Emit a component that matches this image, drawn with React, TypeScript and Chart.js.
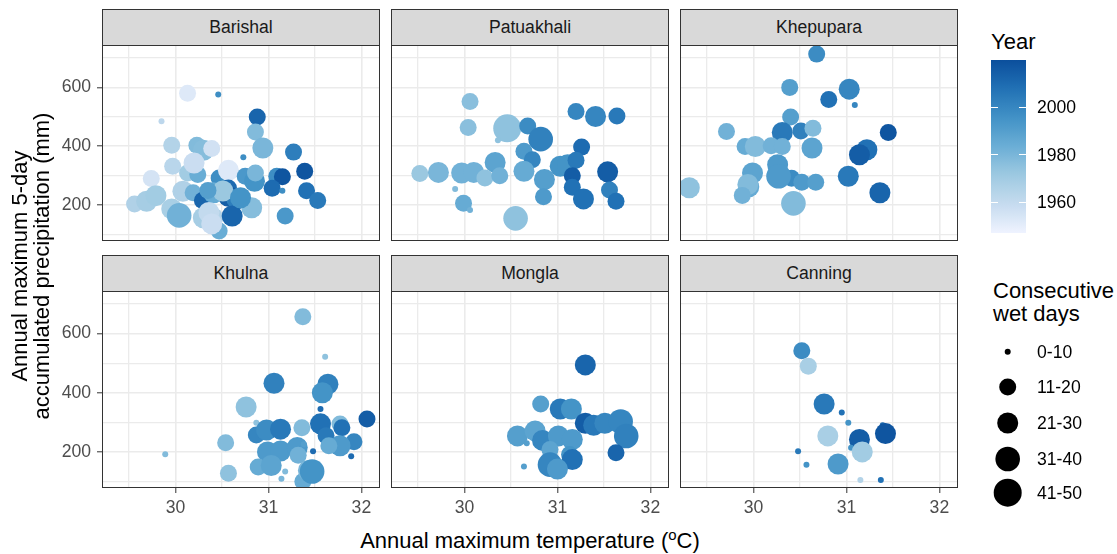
import React, { useEffect, useRef } from "react";
import { Chart, registerables } from "chart.js";

Chart.register(...registerables);

// ---------------- data ----------------
const stations = ["Barishal", "Patuakhali", "Khepupara", "Khulna", "Mongla", "Canning"];
const wetDayClasses = ["0-10", "11-20", "21-30", "31-40", "41-50"];
const xTickLabels = [30, 31, 32];
const xGridValues = [29.5, 30, 30.5, 31, 31.5, 32];
const yTickLabels = [200, 400, 600];
const yGridValues = [100, 200, 300, 400, 500, 600, 700];
const yearTickLabels = [1960, 1980, 2000];

const barishalTemp = [30.13, 30.46, 29.85, 30.88, 30.86, 30.94, 31.27, 30.73, 29.96, 30.23, 30.3, 30.39, 29.97, 29.74, 29.56, 29.69, 29.79, 29.96, 30.04, 30.08, 30.13, 30.24, 30.19, 30.2, 30.29, 30.3, 30.4, 30.47, 30.47, 30.57, 30.41, 30.57, 30.57, 30.66, 30.61, 30.75, 30.85, 30.86, 30.82, 31.09, 31.15, 31.04, 31.15, 31.18, 31.39, 31.41, 31.53, 30.51, 30.36, 30.39, 30.7, 30.35];
const barishalPrecip = [580, 576, 485, 499, 448, 394, 380, 363, 403, 403, 386, 392, 332, 290, 204, 213, 232, 187, 165, 247, 309, 304, 242, 343, 216, 157, 157, 112, 292, 318, 242, 258, 230, 221, 163, 298, 281, 309, 191, 298, 296, 257, 249, 163, 315, 249, 216, 248, 175, 136, 225, 250];
const barishalYear = [1952, 1997, 1962, 2012, 1978, 1980, 2003, 1997, 1965, 1978, 1977, 1956, 1963, 1955, 1966, 1969, 1970, 1968, 1982, 1966, 1970, 1984, 1982, 1958, 2012, 1969, 1965, 1984, 1997, 1952, 1985, 2010, 2015, 2003, 2012, 1993, 1995, 1980, 1977, 1997, 2018, 2010, 1997, 1993, 2018, 2008, 2005, 1972, 1960, 1958, 1995, 1990];
const barishalWet = [1, 0, 0, 1, 1, 2, 1, 0, 1, 1, 2, 1, 1, 1, 1, 2, 2, 2, 3, 2, 1, 1, 1, 2, 1, 2, 2, 1, 1, 2, 2, 1, 2, 2, 2, 1, 2, 1, 2, 1, 1, 1, 0, 1, 1, 1, 1, 2, 2, 2, 2, 1];

const patuakhaliTemp = [30.06, 30.04, 30.46, 30.68, 30.82, 31.2, 31.41, 31.64, 31.26, 30.36, 30.64, 30.73, 30.33, 29.52, 29.72, 29.97, 30.1, 30.22, 30.38, 30.64, 30.86, 30.85, 31.03, 31.11, 31.2, 31.16, 31.16, 31.28, 31.54, 31.56, 31.63, 29.99, 29.9, 30.06, 30.55];
const patuakhaliPrecip = [552, 464, 461, 469, 424, 518, 501, 503, 397, 420, 383, 354, 345, 307, 311, 309, 311, 292, 300, 315, 287, 228, 332, 337, 352, 300, 261, 221, 313, 251, 213, 206, 255, 183, 155];
const patuakhaliYear = [1976, 1976, 1975, 1998, 2002, 2000, 2000, 2005, 2010, 1975, 1992, 2000, 1988, 1972, 1980, 1982, 1982, 1975, 1982, 1985, 1990, 1992, 1995, 1995, 2005, 2015, 2008, 2008, 2015, 2002, 2008, 1985, 1978, 1982, 1975];
const patuakhaliWet = [1, 1, 4, 1, 3, 1, 2, 1, 1, 0, 1, 1, 2, 1, 2, 2, 2, 1, 1, 2, 2, 1, 2, 2, 1, 1, 1, 2, 2, 1, 1, 1, 0, 0, 3];

const khepuparaTemp = [30.68, 30.39, 31.03, 30.81, 31.09, 30.4, 29.71, 30.31, 30.51, 30.64, 31.45, 29.91, 30.02, 30.19, 30.31, 30.63, 31.22, 31.14, 30.26, 30.41, 29.99, 30.27, 30.52, 30.67, 31.02, 29.31, 29.95, 29.94, 29.88, 30.43, 31.36];
const khepuparaPrecip = [713, 600, 594, 559, 540, 499, 450, 447, 452, 461, 447, 399, 399, 402, 399, 394, 388, 371, 337, 291, 309, 298, 278, 278, 298, 259, 262, 270, 233, 206, 242];
const khepuparaYear = [1998, 1990, 2000, 2008, 2000, 1990, 1982, 2005, 2002, 1978, 2018, 1985, 1978, 1982, 1982, 1988, 2008, 2015, 1992, 1998, 1988, 1992, 1992, 1990, 2005, 1975, 1985, 1978, 1982, 1978, 2012];
const khepuparaWet = [1, 1, 2, 1, 0, 1, 1, 2, 1, 1, 1, 1, 2, 1, 1, 2, 2, 2, 2, 1, 2, 3, 1, 1, 2, 2, 2, 2, 1, 3, 2];

const khulnaTemp = [31.37, 31.61, 31.06, 31.64, 31.58, 30.76, 31.56, 30.87, 32.06, 30.87, 30.98, 31.13, 31.36, 31.56, 31.62, 31.77, 31.79, 31.92, 31.77, 31.65, 30.54, 29.89, 30.99, 31.13, 31.31, 31.38, 31.48, 31.89, 30.89, 31.03, 30.57, 31.18, 31.14, 31.37, 31.43, 31.47, 31.32];
const khulnaPrecip = [657, 522, 432, 429, 400, 352, 345, 299, 311, 257, 274, 277, 282, 295, 255, 294, 282, 234, 221, 221, 231, 192, 200, 203, 215, 226, 202, 185, 149, 154, 128, 134, 109, 100, 137, 134, 189];
const khulnaYear = [1978, 1975, 2002, 2002, 1995, 1975, 2010, 1975, 2015, 2000, 1998, 2005, 1978, 2008, 2005, 1978, 2008, 2000, 1992, 1985, 1978, 1978, 1992, 1992, 1992, 1990, 2010, 2010, 1985, 1988, 1975, 1978, 1980, 1985, 1980, 1995, 1982];
const khulnaWet = [1, 0, 2, 2, 2, 2, 0, 0, 1, 1, 2, 2, 1, 2, 1, 1, 1, 1, 2, 1, 1, 0, 2, 2, 2, 0, 0, 0, 1, 2, 1, 0, 0, 1, 2, 3, 1];

const monglaTemp = [31.3, 30.82, 31.03, 31.15, 31.3, 31.39, 31.51, 31.68, 31.74, 30.57, 30.76, 30.67, 30.84, 31.01, 31.16, 30.92, 31.13, 31.16, 31.63, 30.64, 30.92, 31.0];
const monglaPrecip = [494, 362, 345, 345, 297, 290, 297, 303, 254, 254, 271, 229, 239, 254, 242, 208, 191, 174, 197, 151, 157, 142];
const monglaYear = [2012, 1990, 2005, 1995, 2015, 2005, 2000, 2000, 2002, 1990, 1988, 1990, 2000, 1992, 1992, 1988, 1995, 2008, 2012, 1990, 2000, 1992];
const monglaWet = [2, 1, 2, 2, 2, 2, 2, 3, 3, 2, 2, 0, 2, 2, 2, 1, 1, 2, 1, 0, 3, 2];

const canningTemp = [30.52, 30.59, 30.76, 30.95, 31.02, 31.39, 31.42, 30.8, 31.14, 31.05, 31.17, 30.48, 30.57, 30.91, 31.15, 31.37];
const canningPrecip = [542, 490, 362, 333, 299, 290, 262, 254, 242, 214, 200, 202, 157, 159, 105, 105];
const canningYear = [1998, 1968, 2005, 2008, 1995, 2010, 2018, 1968, 2015, 1995, 1970, 2005, 1995, 1992, 1965, 2008];
const canningWet = [1, 1, 2, 0, 0, 0, 2, 2, 2, 0, 2, 0, 0, 2, 0, 0];

const stationTemp = [barishalTemp, patuakhaliTemp, khepuparaTemp, khulnaTemp, monglaTemp, canningTemp];
const stationPrecip = [barishalPrecip, patuakhaliPrecip, khepuparaPrecip, khulnaPrecip, monglaPrecip, canningPrecip];
const stationYear = [barishalYear, patuakhaliYear, khepuparaYear, khulnaYear, monglaYear, canningYear];
const stationWet = [barishalWet, patuakhaliWet, khepuparaWet, khulnaWet, monglaWet, canningWet];

// ---------------- styling / layout ----------------
const FONT = '"Liberation Sans", Arial, Helvetica, sans-serif';
const SMALL = 17.6;
const TITLE = 22;
const X_MIN = 29.21;
const X_MAX = 32.2;
const Y_MIN = 78;
const Y_MAX = 744;
const YEAR_MIN = 1947;
const YEAR_MAX = 2020;
const BLUES = ["#EFF3FF", "#C6DBEF", "#9ECAE1", "#6BAED6", "#4292C6", "#2171B5", "#0B4F9C"];
const RADII = [3, 8.5, 10.5, 12.3, 14];

const COL_LEFT = [102, 391, 680];
const PLOT_W = 278;
const ROW_TOP = [45, 291];
const ROW_H = [196, 197];
const STRIP_H = 36;
const Y_AXIS_W = 60;
const X_AXIS_H = 34;

function hexToRgb(h: string) {
  const n = parseInt(h.slice(1), 16);
  return [(n >> 16) & 255, (n >> 8) & 255, n & 255];
}
function yearColor(y: number) {
  let t = (y - YEAR_MIN) / (YEAR_MAX - YEAR_MIN);
  t = Math.max(0, Math.min(1, t));
  const seg = t * (BLUES.length - 1);
  const i = Math.min(BLUES.length - 2, Math.floor(seg));
  const f = seg - i;
  const a = hexToRgb(BLUES[i]);
  const b = hexToRgb(BLUES[i + 1]);
  const c = a.map((v, k) => Math.round(v + (b[k] - v) * f));
  return `rgb(${c[0]},${c[1]},${c[2]})`;
}

function isMultiple(v: number, step: number) {
  const r = v / step;
  return Math.abs(r - Math.round(r)) < 1e-6;
}

type PanelProps = { index: number };

function Panel({ index }: PanelProps) {
  const ref = useRef<HTMLCanvasElement | null>(null);
  const col = index % 3;
  const row = Math.floor(index / 3);
  const showY = col === 0;
  const showX = row === 1;
  const plotLeft = COL_LEFT[col];
  const plotTop = ROW_TOP[row];
  const plotH = ROW_H[row];
  const cLeft = plotLeft - (showY ? Y_AXIS_W : 0);
  const cW = PLOT_W + (showY ? Y_AXIS_W : 0);
  const cH = plotH + (showX ? X_AXIS_H : 0);

  useEffect(() => {
    if (!ref.current) return;
    const temps = stationTemp[index];
    const precs = stationPrecip[index];
    const years = stationYear[index];
    const wets = stationWet[index];
    const chart = new Chart(ref.current, {
      type: "scatter",
      data: {
        datasets: [
          {
            data: temps.map((t, i) => ({ x: t, y: precs[i] })),
            backgroundColor: years.map(yearColor),
            pointRadius: wets.map((w) => RADII[w]),
            pointHoverRadius: wets.map((w) => RADII[w]),
            pointBorderWidth: 0,
            borderWidth: 0,
            clip: 0,
          } as any,
        ],
      },
      options: {
        animation: false,
        responsive: false,
        events: [],
        layout: { padding: 0, autoPadding: false },
        plugins: { legend: { display: false }, tooltip: { enabled: false } },
        scales: {
          x: {
            type: "linear",
            position: "bottom",
            min: X_MIN,
            max: X_MAX,
            afterBuildTicks: (s: any) => {
              s.min = X_MIN;
              s.max = X_MAX;
              s.ticks = xGridValues.map((v) => ({ value: v }));
            },
            afterFit: (s: any) => {
              s.height = showX ? X_AXIS_H : 0;
              s.paddingLeft = 0;
              s.paddingRight = 0;
              s.paddingTop = 0;
              s.paddingBottom = 0;
            },
            ticks: {
              display: showX,
              autoSkip: false,
              maxRotation: 0,
              minRotation: 0,
              padding: 5,
              color: "#4D4D4D",
              font: { family: FONT, size: SMALL },
              callback: (v: any) => {
                const n = Number(v);
                return isMultiple(n, 1) && xTickLabels.includes(Math.round(n)) ? String(Math.round(n)) : "";
              },
            },
            grid: {
              color: "#EBEBEB",
              lineWidth: (ctx: any) => (ctx.tick && isMultiple(ctx.tick.value, 1) ? 1.6 : 1.3),
              drawTicks: showX,
              tickLength: 5,
              tickWidth: 1,
              tickColor: (ctx: any) => (ctx.tick && isMultiple(ctx.tick.value, 1) ? "#333333" : "rgba(0,0,0,0)"),
            },
            border: { display: false },
          },
          y: {
            type: "linear",
            position: "left",
            min: Y_MIN,
            max: Y_MAX,
            afterBuildTicks: (s: any) => {
              s.min = Y_MIN;
              s.max = Y_MAX;
              s.ticks = yGridValues.map((v) => ({ value: v }));
            },
            afterFit: (s: any) => {
              s.width = showY ? Y_AXIS_W : 0;
              s.paddingLeft = 0;
              s.paddingRight = 0;
              s.paddingTop = 0;
              s.paddingBottom = 0;
            },
            ticks: {
              display: showY,
              autoSkip: false,
              padding: 6,
              color: "#4D4D4D",
              font: { family: FONT, size: SMALL },
              callback: (v: any) => {
                const n = Math.round(Number(v));
                return yTickLabels.includes(n) ? String(n) : "";
              },
            },
            grid: {
              color: "#EBEBEB",
              lineWidth: (ctx: any) => (ctx.tick && isMultiple(ctx.tick.value, 200) ? 1.6 : 1.3),
              drawTicks: showY,
              tickLength: 5,
              tickWidth: 1,
              tickColor: (ctx: any) => (ctx.tick && isMultiple(ctx.tick.value, 200) ? "#333333" : "rgba(0,0,0,0)"),
            },
            border: { display: false },
          },
        },
      } as any,
    });
    return () => chart.destroy();
  }, [index]);

  return (
    <>
      <div
        style={{
          position: "absolute",
          left: plotLeft,
          top: plotTop - STRIP_H,
          width: PLOT_W,
          height: STRIP_H + 1,
          boxSizing: "border-box",
          background: "#D9D9D9",
          border: "1px solid #333333",
          display: "flex",
          alignItems: "center",
          justifyContent: "center",
          fontFamily: FONT,
          fontSize: SMALL,
          color: "#1A1A1A",
        }}
      >
        {stations[index]}
      </div>
      <canvas
        ref={ref}
        width={cW}
        height={cH}
        style={{ position: "absolute", left: cLeft, top: plotTop, width: cW, height: cH }}
      />
      <div
        style={{
          position: "absolute",
          left: plotLeft,
          top: plotTop,
          width: PLOT_W,
          height: plotH,
          boxSizing: "border-box",
          border: "1px solid #333333",
          pointerEvents: "none",
        }}
      />
    </>
  );
}

function ColorBar() {
  const left = 991;
  const top = 60;
  const w = 35;
  const h = 173;
  const stops: string[] = [];
  for (let i = 0; i <= 20; i++) {
    const y = YEAR_MIN + ((YEAR_MAX - YEAR_MIN) * i) / 20;
    stops.push(`${yearColor(y)} ${(i / 20) * 100}%`);
  }
  const yPos = (yr: number) => top + h - ((yr - YEAR_MIN) / (YEAR_MAX - YEAR_MIN)) * h;
  return (
    <>
      <div
        style={{
          position: "absolute",
          left,
          top: 29,
          fontFamily: FONT,
          fontSize: TITLE,
          color: "#000",
          lineHeight: "26px",
        }}
      >
        Year
      </div>
      <div
        style={{
          position: "absolute",
          left,
          top,
          width: w,
          height: h,
          background: `linear-gradient(to top, ${stops.join(", ")})`,
        }}
      />
      {yearTickLabels.map((yr) => (
        <React.Fragment key={yr}>
          <div style={{ position: "absolute", left, top: yPos(yr) - 0.5, width: 7, height: 1, background: "#fff" }} />
          <div style={{ position: "absolute", left: left + w - 7, top: yPos(yr) - 0.5, width: 7, height: 1, background: "#fff" }} />
          <div
            style={{
              position: "absolute",
              left: left + w + 11,
              top: yPos(yr) - 11,
              height: 22,
              lineHeight: "22px",
              fontFamily: FONT,
              fontSize: SMALL,
              color: "#000",
            }}
          >
            {yr}
          </div>
        </React.Fragment>
      ))}
    </>
  );
}

function SizeLegend() {
  const cx = 1007.7;
  const ys = [351.7, 387, 423, 459, 492.7];
  return (
    <>
      <div
        style={{
          position: "absolute",
          left: 993,
          top: 279,
          fontFamily: FONT,
          fontSize: TITLE,
          lineHeight: "23px",
          color: "#000",
          whiteSpace: "nowrap",
        }}
      >
        Consecutive
        <br />
        wet days
      </div>
      <svg style={{ position: "absolute", left: 0, top: 0 }} width={1117} height={554}>
        {wetDayClasses.map((c, i) => (
          <circle key={c} cx={cx} cy={ys[i]} r={RADII[i]} fill="#000" />
        ))}
      </svg>
      {wetDayClasses.map((c, i) => (
        <div
          key={c}
          style={{
            position: "absolute",
            left: 1037,
            top: ys[i] - 11,
            height: 22,
            lineHeight: "22px",
            fontFamily: FONT,
            fontSize: SMALL,
            color: "#000",
          }}
        >
          {c}
        </div>
      ))}
    </>
  );
}

export default function App() {
  return (
    <div
      style={{
        position: "absolute",
        left: 0,
        top: 0,
        width: 1117,
        height: 554,
        overflow: "hidden",
        background: "#fff",
      }}
    >
      {stations.map((s, i) => (
        <Panel key={s} index={i} />
      ))}
      <div
        style={{
          position: "absolute",
          left: 31 - 200,
          top: 266 - 22,
          width: 400,
          height: 44,
          transform: "rotate(-90deg)",
          transformOrigin: "50% 50%",
          textAlign: "center",
          fontFamily: FONT,
          fontSize: TITLE,
          lineHeight: "22px",
          color: "#000",
          whiteSpace: "nowrap",
        }}
      >
        Annual maximum 5-day
        <br />
        accumulated precipitation (mm)
      </div>
      <div
        style={{
          position: "absolute",
          left: 530 - 300,
          top: 527,
          width: 600,
          textAlign: "center",
          fontFamily: FONT,
          fontSize: TITLE,
          lineHeight: "28px",
          color: "#000",
          whiteSpace: "nowrap",
        }}
      >
        Annual maximum temperature (
        <span style={{ fontSize: "0.68em", position: "relative", top: "-0.55em" }}>o</span>C)
      </div>
      <ColorBar />
      <SizeLegend />
    </div>
  );
}
